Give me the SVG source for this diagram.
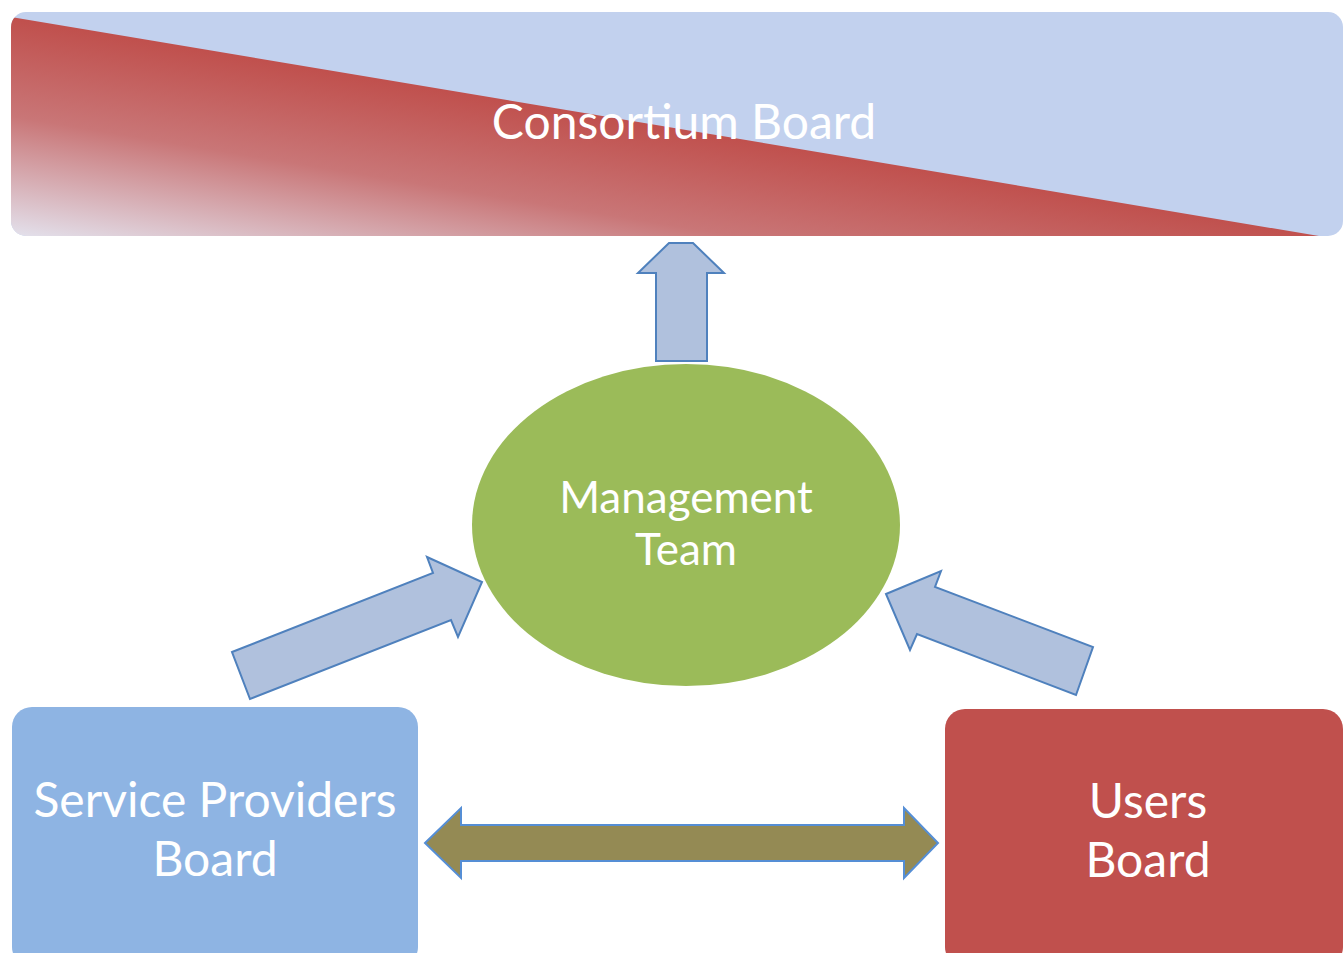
<svg xmlns="http://www.w3.org/2000/svg" width="1344" height="953" viewBox="0 0 1344 953">
<defs>
<style>
.lbl{fill:#FFFFFF;font-family:Lato,"Open Sans","Liberation Sans",sans-serif;text-anchor:middle}
.arr{fill:#B0C1DD;stroke:#4F81BD;stroke-width:2;stroke-linejoin:miter}
</style>
<clipPath id="cbClip"><rect x="11" y="12" width="1332" height="224" rx="15" ry="15"/></clipPath>
<linearGradient id="redGrad" gradientUnits="userSpaceOnUse" x1="46" y1="24" x2="11" y2="236">
<stop offset="0" stop-color="#C0504D"/>
<stop offset="0.45" stop-color="#C97677"/>
<stop offset="1" stop-color="#E3E1EC"/>
</linearGradient>
</defs>
<rect width="1344" height="953" fill="#FFFFFF"/>
<g id="consortium-board">
<g clip-path="url(#cbClip)">
<rect x="11" y="12" width="1332" height="224" fill="#C2D1EE"/>
<polygon points="11,17 1325,237 11,237" fill="url(#redGrad)"/>
</g>
<text class="lbl" x="684" y="139" font-size="48">Consortium Board</text>
</g>
<g id="connectors">
<polygon class="arr" points="669,243 693,243 724,273 707,273 707,361 656,361 656,273 638,273"/>
<polygon class="arr" points="232,652 433,573 427,557 482,582 458,637 451,620 250,699"/>
<polygon class="arr" points="886,594 941,571 935,587 1093,647 1076,695 917,634 910,650"/>
<polygon points="425,843 461,808 461,825 904,825 904,808 938,843 904,878 904,861 461,861 461,878" fill="#948A54" stroke="#558ED5" stroke-width="2"/>
</g>
<g id="management-team">
<ellipse cx="686" cy="525" rx="214" ry="161" fill="#9BBB59"/>
<text class="lbl" x="686" y="513" font-size="44">Management</text>
<text class="lbl" x="686" y="565" font-size="44">Team</text>
</g>
<g id="service-providers-board">
<rect x="12" y="707" width="406" height="260" rx="20" ry="20" fill="#8EB4E3"/>
<text class="lbl" x="215" y="817" font-size="48">Service Providers</text>
<text class="lbl" x="215" y="876" font-size="48">Board</text>
</g>
<g id="users-board">
<rect x="945" y="709" width="398" height="258" rx="20" ry="20" fill="#C0504D"/>
<text class="lbl" x="1148" y="818" font-size="48">Users</text>
<text class="lbl" x="1148" y="877" font-size="48">Board</text>
</g>
</svg>
